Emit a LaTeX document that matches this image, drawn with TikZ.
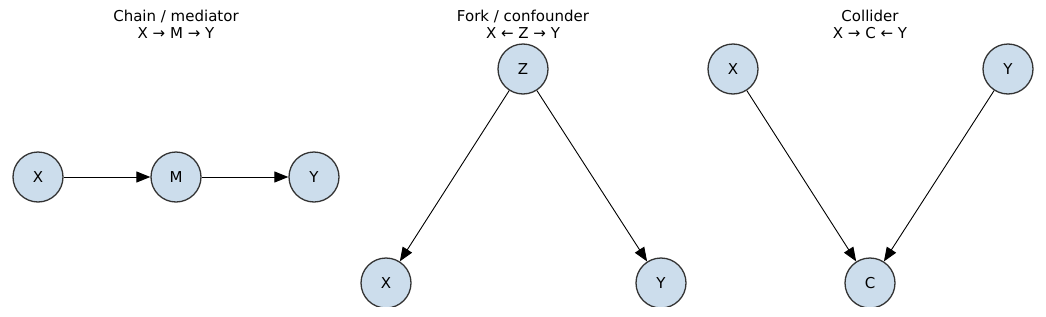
\documentclass[tikz,border=0pt]{standalone}
\usepackage{fontspec}
\setmainfont{DejaVu Sans}
\usetikzlibrary{arrows.meta}
\definecolor{nodefill}{RGB}{204,221,236}
\definecolor{nodeedge}{RGB}{51,51,51}
\tikzset{
  var/.style={circle, draw=nodeedge, line width=1.3pt, fill=nodefill, minimum size=50pt, inner sep=0pt, font=\fontsize{15}{17}\selectfont},
  link/.style={-{Triangle[length=14pt,width=11pt]}, line width=0.9pt, black},
  ttl/.style={align=center, font=\fontsize{15}{17}\selectfont}
}
\begin{document}
\begin{tikzpicture}[x=1pt,y=-1pt]
\useasboundingbox (0,0) rectangle (1046,316);
\node[ttl] (t1) at (176,24.5) {Chain / mediator\\X → M → Y};
\node[ttl] (t2) at (523,24.5) {Fork / confounder\\X ← Z → Y};
\node[ttl] (t3) at (870,24.5) {Collider\\X → C ← Y};
\begin{scope}
\clip (0,0) rectangle (1046,306);
\node[var] (cx) at (38,177) {X};
\node[var] (cm) at (176,177) {M};
\node[var] (cy) at (314,177) {Y};
\node[var] (fz) at (523,69) {Z};
\node[var] (fx) at (386,283) {X};
\node[var] (fy) at (661,283) {Y};
\node[var] (kx) at (733,69) {X};
\node[var] (ky) at (1008,69) {Y};
\node[var] (kc) at (870,283) {C};
\draw[link] (cx) -- (cm);
\draw[link] (cm) -- (cy);
\draw[link] (fz) -- (fx);
\draw[link] (fz) -- (fy);
\draw[link] (kx) -- (kc);
\draw[link] (ky) -- (kc);
\end{scope}
\end{tikzpicture}
\end{document}
